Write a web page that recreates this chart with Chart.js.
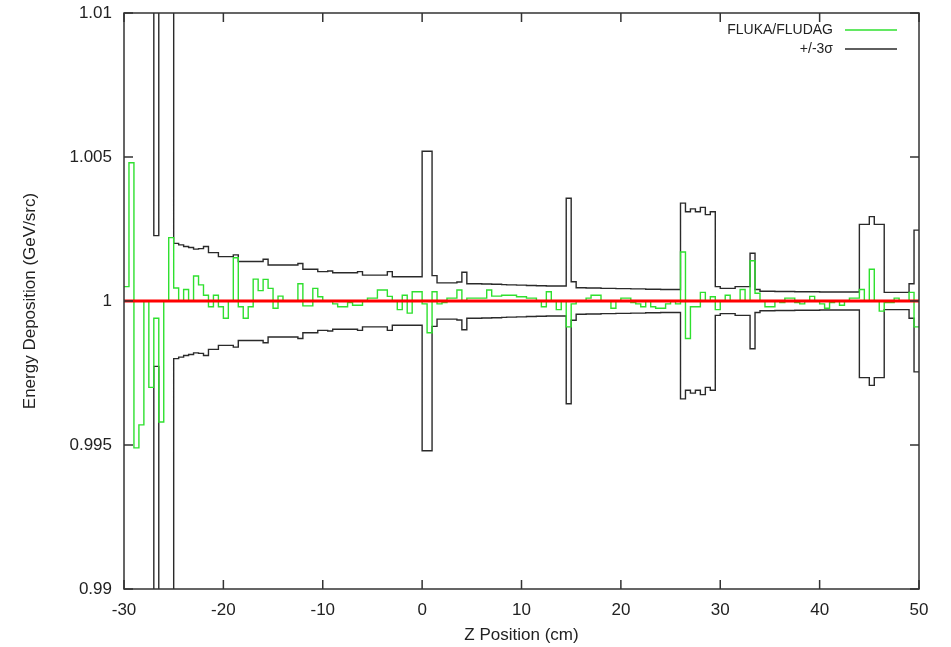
<!DOCTYPE html>
<html>
<head>
<meta charset="utf-8">
<title>FLUKA/FLUDAG energy deposition</title>
<script src="https://cdn.jsdelivr.net/npm/chart.js@4.4.1/dist/chart.umd.min.js"></script>
<style>
  html, body { margin: 0; padding: 0; background: #fff; }
  #wrap { width: 951px; height: 647px; }
</style>
</head>
<body>
<div id="wrap"><canvas id="chart" width="951" height="647"></canvas></div>
<script>
// bins of 0.5 cm from -30 to 50 cm
const zStart = -30;
const zEnd = 50;
const binWidth = 0.5;

// FLUKA/FLUDAG ratio per bin (10 bins per row)
const ratio = [
  1.0005, 1.0048, 0.9949, 0.9957, 1.0000, 0.9970, 0.9994, 0.9958, 1.0000, 1.0022,
  1.00045, 1.0000, 1.0004, 1.0000, 1.00087, 1.00056, 1.0002, 0.9998, 1.0002, 0.9998,
  0.9994, 1.0000, 1.0015, 0.9998, 0.9994, 0.9998, 1.00076, 1.00036, 1.00075, 1.00044,
  0.99975, 1.00017, 1.0000, 1.0000, 1.0000, 1.0006, 0.99983, 0.99983, 1.00044, 1.00015,
  1.0000, 1.0000, 0.9999, 0.9998, 0.9998, 0.99995, 0.99985, 0.99985, 1.0000, 1.0001,
  1.0001, 1.00038, 1.00038, 1.00016, 1.0000, 0.9997, 1.0002, 0.99958, 1.00032, 1.00032,
  0.9999, 0.9989, 1.00032, 0.9999, 0.99995, 1.0001, 1.0001, 1.00038, 1.0000, 1.0001,
  1.0001, 1.0001, 1.0001, 1.00038, 1.00017, 1.00017, 1.0002, 1.0002, 1.0002, 1.00015,
  1.00015, 1.0001, 1.0001, 1.0000, 0.9998, 1.00032, 1.0000, 0.9997, 1.0000, 0.9991,
  0.9999, 1.0000, 1.0000, 1.0001, 1.0002, 1.0002, 1.0000, 1.0000, 0.99975, 1.0000,
  1.0001, 1.0001, 0.99995, 0.9999, 0.9998, 1.0000, 0.9998, 0.99975, 0.99975, 0.9999,
  1.0000, 0.9999, 1.0017, 0.9987, 0.9998, 0.9998, 1.0003, 1.0000, 1.00015, 0.9997,
  1.0000, 1.0002, 1.0000, 1.0000, 1.0004, 1.0000, 1.0014, 1.00027, 1.0000, 0.9998,
  0.9998, 1.0000, 0.99995, 1.0001, 1.0001, 0.99995, 0.9999, 1.0000, 1.00016, 1.0000,
  0.9999, 0.99975, 0.99995, 1.0000, 0.99985, 1.0000, 1.0001, 1.0001, 1.0004, 1.0000,
  1.0011, 1.0000, 0.99965, 0.99995, 0.99995, 1.0001, 1.0000, 1.0000, 1.0003, 0.9991
];

// 3 sigma half width per bin (0.02 = off the plot)
const sigma3 = [
  0.02, 0.02, 0.02, 0.02, 0.02, 0.02, 0.00227, 0.02, 0.02, 0.02,
  0.00200, 0.00195, 0.00189, 0.00186, 0.00180, 0.00182, 0.00189, 0.00168, 0.00168, 0.00154,
  0.00154, 0.00154, 0.00160, 0.00137, 0.00137, 0.00137, 0.00137, 0.00137, 0.00145, 0.00125,
  0.00125, 0.00125, 0.00125, 0.00125, 0.00125, 0.00130, 0.00110, 0.00110, 0.00110, 0.00102,
  0.00102, 0.00104, 0.00098, 0.00098, 0.00098, 0.00098, 0.00098, 0.00102, 0.00090, 0.00090,
  0.00090, 0.00090, 0.00090, 0.00102, 0.00084, 0.00084, 0.00084, 0.00084, 0.00084, 0.00084,
  0.0052, 0.0052, 0.00088, 0.00063, 0.00063, 0.00063, 0.00063, 0.00066, 0.00100, 0.00060,
  0.00060, 0.00060, 0.00059, 0.00059, 0.00058, 0.00058, 0.00057, 0.00056, 0.00056, 0.00055,
  0.00055, 0.00054, 0.00054, 0.00053, 0.00053, 0.00052, 0.00052, 0.00052, 0.00052, 0.00357,
  0.00067, 0.00046, 0.00046, 0.00045, 0.00045, 0.00045, 0.00044, 0.00044, 0.00044, 0.00043,
  0.00043, 0.00043, 0.00042, 0.00042, 0.00042, 0.00041, 0.00041, 0.00041, 0.00040, 0.00040,
  0.00040, 0.00040, 0.00340, 0.00310, 0.00320, 0.00310, 0.00325, 0.00300, 0.00310, 0.00050,
  0.00044, 0.00044, 0.00044, 0.00050, 0.00050, 0.00050, 0.00166, 0.00040, 0.00034, 0.00034,
  0.00034, 0.00033, 0.00033, 0.00033, 0.00033, 0.00032, 0.00032, 0.00032, 0.00032, 0.00032,
  0.00031, 0.00031, 0.00031, 0.00031, 0.00031, 0.00031, 0.00031, 0.00031, 0.00266, 0.00266,
  0.00293, 0.00266, 0.00266, 0.00030, 0.00030, 0.00030, 0.00030, 0.00030, 0.00060, 0.00246
];

// reference level
const refZ = [zStart, zEnd];
const refValue = [1, 1];

const xTicks = [-30, -20, -10, 0, 10, 20, 30, 40, 50];
const yTicks = [0.99, 0.995, 1, 1.005, 1.01];

const fontFamily = '"Liberation Sans", Arial, Helvetica, sans-serif';
const textColor = '#222';

const edges = Array.from({ length: ratio.length + 1 }, (_, i) => zStart + i * binWidth);

function histPoints(vals) {
  const pts = vals.map((v, i) => ({ x: edges[i], y: v }));
  pts.push({ x: edges[vals.length], y: vals[vals.length - 1] });
  return pts;
}

const upper = sigma3.map(d => 1 + d);
const lower = sigma3.map(d => 1 - d);

// frame + inward ticks on all four sides, like the gnuplot original
const frameTicks = {
  id: 'frameTicks',
  afterDatasetsDraw(chart) {
    const { ctx, chartArea: a, scales } = chart;
    const len = 9;
    ctx.save();
    ctx.strokeStyle = '#333';
    ctx.lineWidth = 1.5;
    ctx.beginPath();
    xTicks.forEach(v => {
      const px = scales.x.getPixelForValue(v);
      ctx.moveTo(px, a.bottom); ctx.lineTo(px, a.bottom - len);
      ctx.moveTo(px, a.top); ctx.lineTo(px, a.top + len);
    });
    yTicks.forEach(v => {
      const py = scales.y.getPixelForValue(v);
      ctx.moveTo(a.left, py); ctx.lineTo(a.left + len, py);
      ctx.moveTo(a.right, py); ctx.lineTo(a.right - len, py);
    });
    ctx.stroke();
    ctx.strokeRect(a.left, a.top, a.right - a.left, a.bottom - a.top);
    ctx.restore();
  }
};

// legend inside the plot, text on the left of the line sample
const insideLegend = {
  id: 'insideLegend',
  afterDraw(chart) {
    const { ctx, chartArea: a } = chart;
    const items = chart.data.datasets.filter(d => d.inLegend);
    ctx.save();
    ctx.font = '14px ' + fontFamily;
    ctx.textAlign = 'right';
    ctx.textBaseline = 'middle';
    items.forEach((d, i) => {
      const y = a.top + 17 + i * 19;
      const x1 = a.right - 22;
      const x0 = x1 - 52;
      ctx.fillStyle = textColor;
      ctx.fillText(d.label, x0 - 12, y);
      ctx.strokeStyle = d.borderColor;
      ctx.lineWidth = 1.5;
      ctx.beginPath();
      ctx.moveTo(x0, y);
      ctx.lineTo(x1, y);
      ctx.stroke();
    });
    ctx.restore();
  }
};

new Chart(document.getElementById('chart'), {
  type: 'line',
  data: {
    datasets: [
      {
        label: 'reference',
        data: refZ.map((z, i) => ({ x: z, y: refValue[i] })),
        borderColor: '#ff0000',
        borderWidth: 3,
        pointRadius: 0
      },
      {
        label: 'FLUKA/FLUDAG',
        inLegend: true,
        data: histPoints(ratio),
        borderColor: '#2fe02f',
        borderWidth: 1.4,
        stepped: true,
        pointRadius: 0
      },
      {
        label: '+/-3σ',
        inLegend: true,
        data: histPoints(upper),
        borderColor: '#2a2a2a',
        borderWidth: 1.4,
        stepped: true,
        pointRadius: 0
      },
      {
        label: '-3σ',
        data: histPoints(lower),
        borderColor: '#2a2a2a',
        borderWidth: 1.4,
        stepped: true,
        pointRadius: 0
      }
    ]
  },
  options: {
    responsive: false,
    animation: false,
    events: [],
    layout: { padding: { top: 13, right: 32, left: 0, bottom: 0 } },
    plugins: {
      legend: { display: false },
      tooltip: { enabled: false }
    },
    scales: {
      x: {
        type: 'linear',
        min: zStart,
        max: zEnd,
        afterBuildTicks: s => { s.ticks = xTicks.map(v => ({ value: v })); },
        afterFit: s => { s.height = 58; s.paddingLeft = 0; s.paddingRight = 0; },
        grid: { display: false, drawTicks: false },
        border: { display: false },
        ticks: {
          color: textColor,
          padding: 11,
          maxRotation: 0,
          font: { family: fontFamily, size: 17 }
        },
        title: {
          display: true,
          text: 'Z Position (cm)',
          color: textColor,
          font: { family: fontFamily, size: 17 },
          padding: { top: 0, bottom: 1 }
        }
      },
      y: {
        type: 'linear',
        min: 0.99,
        max: 1.01,
        afterBuildTicks: s => { s.ticks = yTicks.map(v => ({ value: v })); },
        afterFit: s => { s.width = 124; s.paddingTop = 0; s.paddingBottom = 0; },
        grid: { display: false, drawTicks: false },
        border: { display: false },
        ticks: {
          color: textColor,
          padding: 12,
          font: { family: fontFamily, size: 17 },
          callback: v => String(parseFloat(Number(v).toFixed(3)))
        },
        title: {
          display: true,
          text: 'Energy Deposition (GeV/src)',
          color: textColor,
          font: { family: fontFamily, size: 17 },
          padding: { top: 20, bottom: 0 }
        }
      }
    }
  },
  plugins: [frameTicks, insideLegend]
});
</script>
</body>
</html>
